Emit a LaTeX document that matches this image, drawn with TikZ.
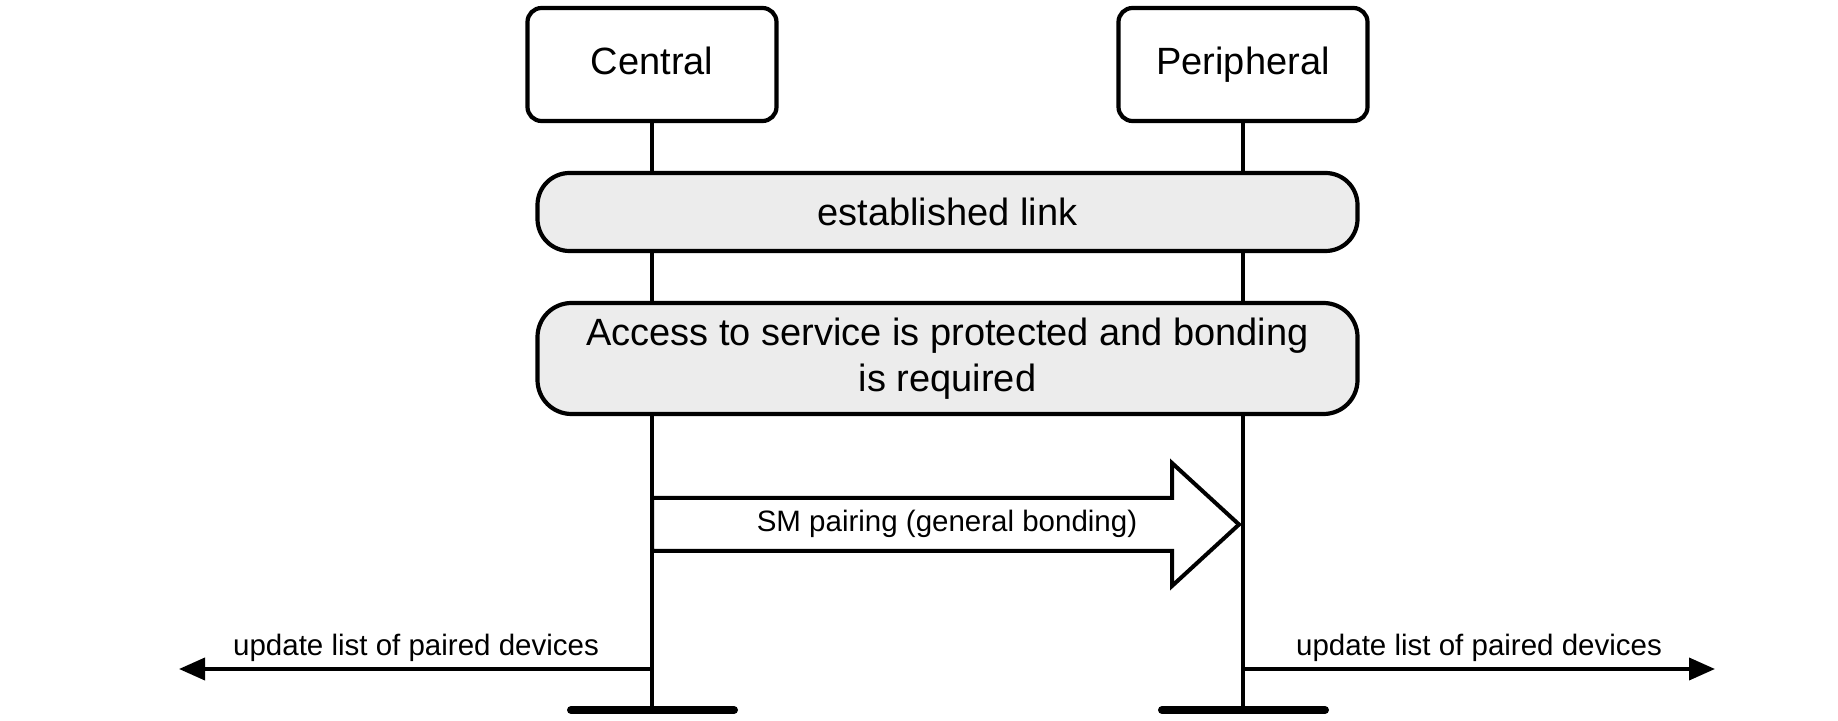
\documentclass[tikz,border=0pt]{standalone}
\usepackage{fontspec}
\setmainfont{Liberation Sans}
\usetikzlibrary{arrows.meta}
\definecolor{phasegray}{RGB}{236,236,236}
\begin{document}
\begin{tikzpicture}[x=0.5pt,y=-0.5pt,
  big/.style={font=\fontsize{19}{23}\selectfont},
  small/.style={font=\fontsize{14.75}{17}\selectfont},
  actor/.style={draw,line width=2.1pt,rounded corners=7pt,fill=white,
    minimum width=124.5pt,minimum height=56.5pt,inner sep=0pt,
    text height=14pt,text depth=4pt,big},
  phase/.style={draw,line width=2.1pt,fill=phasegray,minimum width=410pt,
    inner sep=0pt,align=center,big},
  life/.style={line width=1.9pt},
  bar/.style={line width=4pt,line cap=round},
  upd/.style={line width=1.9pt,-{Triangle[length=13pt,width=11pt]}},
  bigarrow/.style={draw,line width=2pt,fill=white,line join=miter},
  lbl/.style={inner sep=0pt,small}]
\useasboundingbox (0,0) rectangle (1838,721);
% actors
\node[actor] (c) at (652,64.5) {Central};
\node[actor] (p) at (1243,64.5) {Peripheral};
% coordinates on lifelines
\coordinate (cb) at (652,710);
\coordinate (pb) at (1243,710);
\coordinate (cbl) at (571,710);
\coordinate (cbr) at (734,710);
\coordinate (pbl) at (1162,710);
\coordinate (pbr) at (1325,710);
\coordinate (cu) at (652,669);
\coordinate (pu) at (1243,669);
\coordinate (lt) at (179,669);
\coordinate (rt) at (1715,669);
% lifelines
\draw[life] (c.south) -- (cb);
\draw[life] (p.south) -- (pb);
% bottom bars
\draw[bar] (cbl) -- (cbr);
\draw[bar] (pbl) -- (pbr);
% phases
\node[phase,minimum height=39pt,rounded corners=16pt] (est) at (947.5,212) {established link};
\node[phase,minimum height=55.5pt,rounded corners=17pt] (acc) at (947.5,358.5)
  {Access to service is protected and bonding\\is required};
% big message arrow
\path[bigarrow] (652,498) -- (1172,498) -- (1172,463) -- (1239,524.5)
  -- (1172,586) -- (1172,551) -- (652,551) -- cycle;
\node[lbl] (sm) at (947,524) {SM pairing (general bonding)};
% update arrows
\draw[upd] (cu) -- (lt);
\draw[upd] (pu) -- (rt);
\node[lbl] (lu) at (416,648) {update list of paired devices};
\node[lbl] (ru) at (1479,648) {update list of paired devices};
\end{tikzpicture}
\end{document}
